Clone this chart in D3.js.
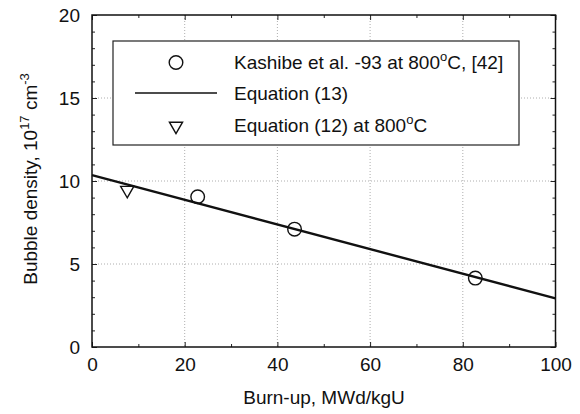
<!DOCTYPE html>
<html>
<head>
<meta charset="utf-8">
<script src="https://cdn.jsdelivr.net/npm/d3@7"></script>
<style>
  html, body { margin: 0; padding: 0; background: #fff; }
  svg text { font-family: "Liberation Sans", Arial, sans-serif; fill: #111; }
</style>
</head>
<body>
<svg id="chart" width="580" height="414"></svg>
<script>
// Measured bubble densities (Kashibe et al. 1993, 800 °C)
const kashibeBurnup = [22.8, 43.7, 82.7];
const kashibeDensity = [9.05, 7.1, 4.15];

// Equation (12) at 800 °C
const eq12Burnup = [7.6];
const eq12Density = [9.45];

// Equation (13): linear fit, end points over the burn-up range
const eq13Burnup = [0, 100];
const eq13Density = [10.35, 2.93];

const xTicks = [0, 20, 40, 60, 80, 100];
const yTicks = [0, 5, 10, 15, 20];
const xMinorTicks = [10, 30, 50, 70, 90];
const yMinorTicks = d3.range(0, 21, 1).filter(v => v % 5 !== 0);

const legendLabels = [
  ["Kashibe et al. -93 at 800", "o", "C, [42]"],
  ["Equation (13)"],
  ["Equation (12) at 800", "o", "C"]
];

const svg = d3.select("#chart");
const m = { left: 92, right: 555.5, top: 15, bottom: 347 };

const x = d3.scaleLinear().domain([0, 100]).range([m.left, m.right]);
const y = d3.scaleLinear().domain([0, 20]).range([m.bottom, m.top]);

// Dotted grid at major ticks
const grid = svg.append("g").attr("stroke", "#999").attr("stroke-width", 0.8)
  .attr("stroke-dasharray", "1,2");
grid.selectAll(".gx").data(xTicks.slice(1, -1)).join("line")
  .attr("x1", d => x(d)).attr("x2", d => x(d))
  .attr("y1", m.top).attr("y2", m.bottom);
grid.selectAll(".gy").data(yTicks.slice(1, -1)).join("line")
  .attr("y1", d => y(d)).attr("y2", d => y(d))
  .attr("x1", m.left).attr("x2", m.right);

// Axes with inward ticks on all four sides
function axisGroup(axis, tx, ty) {
  const g = svg.append("g").attr("transform", `translate(${tx},${ty})`).call(axis);
  g.select(".domain").remove();
  g.selectAll("line").attr("stroke", "#222").attr("stroke-width", 1);
  return g;
}
const fontSize = 19;
const bottomAxis = axisGroup(d3.axisBottom(x).tickValues(xTicks).tickSize(-5).tickPadding(11)
  .tickFormat(d3.format("d")), 0, m.bottom);
bottomAxis.selectAll("text").attr("font-size", fontSize).attr("dy", "0.71em");
const leftAxis = axisGroup(d3.axisLeft(y).tickValues(yTicks).tickSize(-5).tickPadding(12)
  .tickFormat(d3.format("d")), m.left, 0);
leftAxis.selectAll("text").attr("font-size", fontSize);
axisGroup(d3.axisTop(x).tickValues(xTicks).tickSize(-5).tickFormat(""), 0, m.top);
axisGroup(d3.axisRight(y).tickValues(yTicks).tickSize(-5).tickFormat(""), m.right, 0);
// minor ticks
axisGroup(d3.axisBottom(x).tickValues(xMinorTicks).tickSize(-3).tickFormat(""), 0, m.bottom);
axisGroup(d3.axisTop(x).tickValues(xMinorTicks).tickSize(-3).tickFormat(""), 0, m.top);
axisGroup(d3.axisLeft(y).tickValues(yMinorTicks).tickSize(-3).tickFormat(""), m.left, 0);
axisGroup(d3.axisRight(y).tickValues(yMinorTicks).tickSize(-3).tickFormat(""), m.right, 0);
svg.selectAll(".tick text").attr("fill", "#111");

// Frame
svg.append("rect").attr("x", m.left).attr("y", m.top)
  .attr("width", m.right - m.left).attr("height", m.bottom - m.top)
  .attr("fill", "none").attr("stroke", "#111").attr("stroke-width", 1.5);

// Equation (13) line
const line = d3.line().x(d => x(d[0])).y(d => y(d[1]));
svg.append("path").datum(eq13Burnup.map((b, i) => [b, eq13Density[i]]))
  .attr("d", line).attr("fill", "none").attr("stroke", "#111").attr("stroke-width", 2.4);

// Kashibe data: open circles
svg.selectAll(".kpt").data(kashibeBurnup.map((b, i) => [b, kashibeDensity[i]])).join("circle")
  .attr("cx", d => x(d[0])).attr("cy", d => y(d[1])).attr("r", 6.8)
  .attr("fill", "none").attr("stroke", "#111").attr("stroke-width", 1.4);

// Equation (12): open down triangles
const tri = d3.symbol().type(d3.symbolTriangle).size(75);
svg.selectAll(".tpt").data(eq12Burnup.map((b, i) => [b, eq12Density[i]])).join("path")
  .attr("d", tri).attr("transform", d => `translate(${x(d[0])},${y(d[1])}) rotate(180)`)
  .attr("fill", "none").attr("stroke", "#111").attr("stroke-width", 1.4);

// Legend
const lg = svg.append("g");
lg.append("rect").attr("x", 113).attr("y", 41).attr("width", 406).attr("height", 104)
  .attr("fill", "#fff").attr("stroke", "#222").attr("stroke-width", 1.2);
const rowY = [62.5, 93, 125];
lg.append("circle").attr("cx", 176).attr("cy", rowY[0]).attr("r", 6.8)
  .attr("fill", "none").attr("stroke", "#111").attr("stroke-width", 1.4);
lg.append("line").attr("x1", 135).attr("x2", 217).attr("y1", rowY[1]).attr("y2", rowY[1])
  .attr("stroke", "#111").attr("stroke-width", 1.6);
lg.append("path").attr("d", tri).attr("transform", `translate(176,${rowY[2] + 1}) rotate(180)`)
  .attr("fill", "none").attr("stroke", "#111").attr("stroke-width", 1.4);

legendLabels.forEach((parts, i) => {
  const t = lg.append("text").attr("x", 234).attr("y", rowY[i] + 6.5).attr("font-size", fontSize);
  t.append("tspan").text(parts[0]);
  if (parts.length > 1) {
    t.append("tspan").attr("dy", -8).attr("font-size", 13).text(parts[1]);
    t.append("tspan").attr("dy", 8).text(parts[2]);
  }
});

// Axis titles
svg.append("text").attr("x", 324).attr("y", 404)
  .attr("text-anchor", "middle").attr("font-size", fontSize).text("Burn-up, MWd/kgU");

const yt = svg.append("text").attr("transform", `translate(37,${(m.top + m.bottom) / 2 - 2}) rotate(-90)`)
  .attr("text-anchor", "middle").attr("font-size", fontSize);
yt.append("tspan").text("Bubble density, 10");
yt.append("tspan").attr("dy", -8).attr("font-size", 13).text("17");
yt.append("tspan").attr("dy", 8).text(" cm");
yt.append("tspan").attr("dy", -8).attr("font-size", 13).text("-3");
</script>
</body>
</html>
